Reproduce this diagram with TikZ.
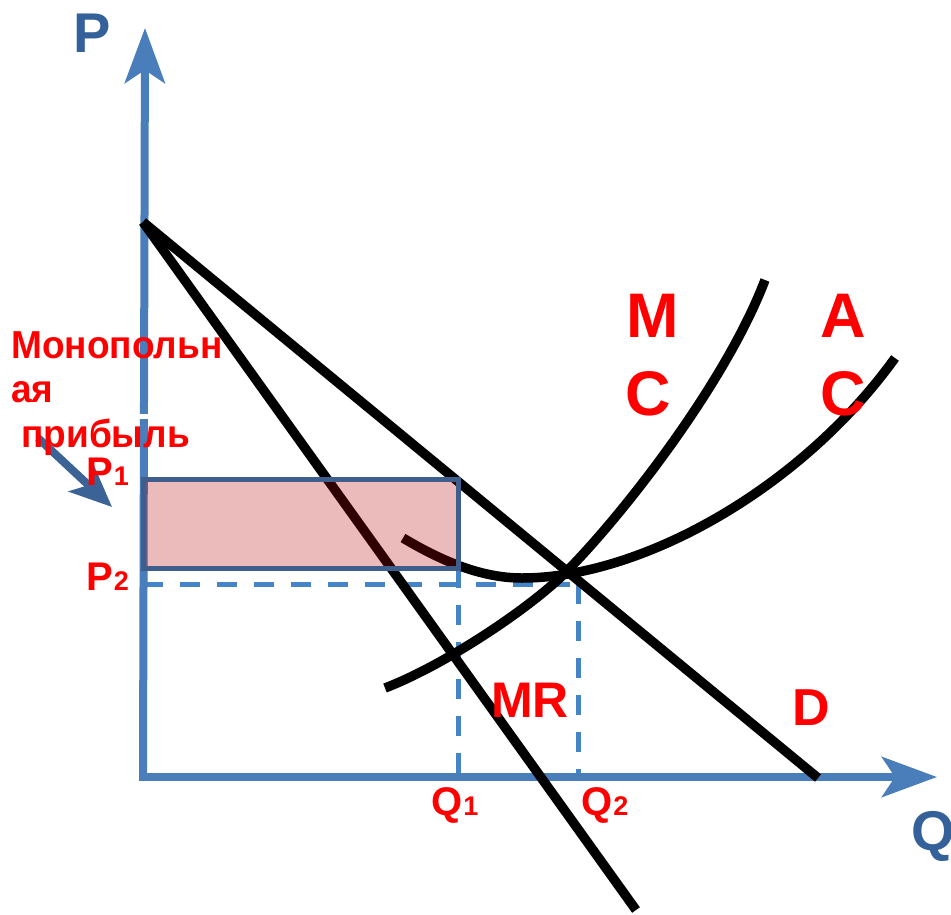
\documentclass[tikz,border=0pt]{standalone}
\usepackage{fontspec}
\setmainfont{Liberation Sans}
\newfontfamily\narrowsans[FakeStretch=0.95]{Liberation Sans}
\usetikzlibrary{arrows.meta}
\definecolor{axisblue}{RGB}{74,126,187}
\definecolor{dashblue}{RGB}{70,132,200}
\definecolor{labelblue}{RGB}{53,97,154}
\definecolor{rectborder}{RGB}{62,95,140}
\definecolor{arrowblue}{RGB}{59,99,150}
\definecolor{profitfill}{RGB}{181,0,0}
\begin{document}
\begin{tikzpicture}[x=1pt,y=-1pt,
  curve/.style={line width=9.5pt,black},
  axisline/.style={line width=8pt,axisblue,-{Stealth[length=55pt,width=40pt,inset=13pt]}},
  guide/.style={line width=5pt,dashblue,dash pattern=on 20pt off 17pt},
  lbl/.style={inner sep=0pt,anchor=base west,text=red},
  sublbl/.style={lbl,font=\bfseries\fontsize{40}{42}\selectfont},
  axlbl/.style={inner sep=0pt,anchor=base west,text=labelblue,font=\bfseries\fontsize{56}{60}\selectfont}]
\useasboundingbox (0,0) rectangle (951,914);
% coordinates
\coordinate (O) at (143,777);
\coordinate (Ptop) at (145,28);
\coordinate (Qend) at (937,777);
\coordinate (A) at (143,222);
\coordinate (Dend) at (818,778);
\coordinate (MRend) at (636,910);
\coordinate (P1) at (143,479);
\coordinate (P2) at (143,584);
\coordinate (C1) at (458,479);
\coordinate (C2) at (458,568);
\coordinate (E) at (578,584);
\coordinate (Q1) at (458,777);
\coordinate (Q2) at (578,777);
\coordinate (X) at (565,573);
% guides
\draw[guide] (P2) -- (E);
\draw[guide] (C2) -- (Q1);
\draw[guide] (E) -- (Q2);
% axes
\draw[axisline] ([yshift=4pt]O) -- (Ptop);
\draw[axisline] ([xshift=-4pt]O) -- (Qend);
\fill[white] (139,414) rectangle (150,419);
% demand and MR
\draw[curve] (A) -- (Dend);
\draw[curve] (A) -- (MRend);
% MC
\draw[curve] (385,688) .. controls (445,665) and (530,608) .. (X)
  .. controls (620,518) and (725,385) .. (765,280);
% AC
\draw[curve] (403,538) .. controls (440,560) and (480,578) .. (522,578)
  .. controls (640,578) and (800,490) .. (895,358);
% profit rectangle
\fill[profitfill,fill opacity=0.27] (P1) rectangle (C2);
\draw[rectborder,line width=5pt] (P1) rectangle (C2);
% arrow
\draw[arrowblue,line width=8pt,-{Stealth[length=42pt,width=36pt,inset=10pt]}] (38,438) coordinate (arT) -- (112,507) coordinate (arH);
% labels
\node[axlbl] (Plbl) at (73,52) {P};
\node[axlbl] (Qlbl) at (911,850) {Q};
\node[lbl,font=\narrowsans\bfseries\fontsize{39}{44}\selectfont] (t1) at (11,358) {Монопольн};
\node[lbl,font=\narrowsans\bfseries\fontsize{39}{44}\selectfont] (t2) at (11,402) {ая};
\node[lbl,font=\narrowsans\bfseries\fontsize{39}{44}\selectfont] (t3) at (21,447) {прибыль};
\node[sublbl] (p1) at (86,485) {P\kern1pt{\fontsize{27}{27}\selectfont 1}};
\node[sublbl] (p2) at (86,590) {P\kern1pt{\fontsize{27}{27}\selectfont 2}};
\node[sublbl] (q1) at (431,815) {Q\kern1pt{\fontsize{27}{27}\selectfont 1}};
\node[sublbl] (q2) at (581,815) {Q\kern1pt{\fontsize{27}{27}\selectfont 2}};
\node[lbl,font=\bfseries\fontsize{50}{54}\selectfont] (mr) at (491,717) {MR};
\node[lbl,font=\bfseries\fontsize{52}{56}\selectfont] (d) at (792,725) {D};
\node[lbl,font=\bfseries\fontsize{63}{70}\selectfont] (mc1) at (626,337) {M};
\node[lbl,font=\bfseries\fontsize{63}{70}\selectfont] (mc2) at (625,415) {C};
\node[lbl,font=\bfseries\fontsize{63}{70}\selectfont] (ac1) at (820,337) {A};
\node[lbl,font=\bfseries\fontsize{63}{70}\selectfont] (ac2) at (820,415) {C};
\end{tikzpicture}
\end{document}
